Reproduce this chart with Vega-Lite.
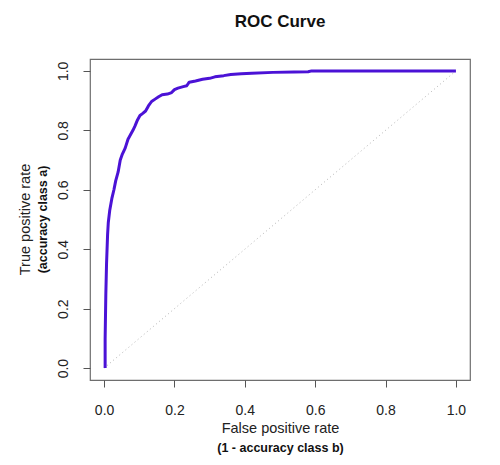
{
  "$schema": "https://vega.github.io/schema/vega-lite/v6.json",
  "autosize": "none",
  "width": 380,
  "height": 321,
  "padding": {"left": 90, "top": 59, "right": 30, "bottom": 85},
  "background": "white",
  "config": {
    "font": "Liberation Sans",
    "view": {"stroke": "#6e6e6e", "strokeWidth": 1.2},
    "axis": {
      "grid": false,
      "domain": false,
      "tickColor": "#555555",
      "tickSize": 7,
      "labelFontSize": 14,
      "labelColor": "#222222",
      "titleColor": "#222222",
      "titleFontWeight": "normal",
      "titleFontSize": 14.5
    }
  },
  "title": {
    "text": "ROC Curve",
    "fontSize": 17,
    "fontWeight": "bold",
    "color": "#111111",
    "anchor": "middle",
    "frame": "group",
    "offset": 28
  },
  "datasets": {
    "roc": [
      {"fpr": 0.003, "tpr": 0.0},
      {"fpr": 0.003, "tpr": 0.10},
      {"fpr": 0.005, "tpr": 0.25},
      {"fpr": 0.007, "tpr": 0.35},
      {"fpr": 0.010, "tpr": 0.45},
      {"fpr": 0.012, "tpr": 0.49},
      {"fpr": 0.016, "tpr": 0.53},
      {"fpr": 0.022, "tpr": 0.57},
      {"fpr": 0.028, "tpr": 0.60},
      {"fpr": 0.033, "tpr": 0.63},
      {"fpr": 0.040, "tpr": 0.66},
      {"fpr": 0.046, "tpr": 0.70},
      {"fpr": 0.052, "tpr": 0.72},
      {"fpr": 0.060, "tpr": 0.74},
      {"fpr": 0.068, "tpr": 0.77},
      {"fpr": 0.075, "tpr": 0.785},
      {"fpr": 0.082, "tpr": 0.80},
      {"fpr": 0.088, "tpr": 0.815},
      {"fpr": 0.095, "tpr": 0.835},
      {"fpr": 0.102, "tpr": 0.85},
      {"fpr": 0.110, "tpr": 0.857},
      {"fpr": 0.118, "tpr": 0.865},
      {"fpr": 0.126, "tpr": 0.882},
      {"fpr": 0.135, "tpr": 0.897},
      {"fpr": 0.145, "tpr": 0.905},
      {"fpr": 0.155, "tpr": 0.913},
      {"fpr": 0.165, "tpr": 0.92},
      {"fpr": 0.180, "tpr": 0.922},
      {"fpr": 0.192, "tpr": 0.927},
      {"fpr": 0.200, "tpr": 0.937},
      {"fpr": 0.210, "tpr": 0.942},
      {"fpr": 0.225, "tpr": 0.947},
      {"fpr": 0.235, "tpr": 0.950},
      {"fpr": 0.242, "tpr": 0.962},
      {"fpr": 0.260, "tpr": 0.966},
      {"fpr": 0.280, "tpr": 0.972},
      {"fpr": 0.300, "tpr": 0.975},
      {"fpr": 0.315, "tpr": 0.980},
      {"fpr": 0.340, "tpr": 0.984},
      {"fpr": 0.360, "tpr": 0.988},
      {"fpr": 0.390, "tpr": 0.990},
      {"fpr": 0.420, "tpr": 0.992},
      {"fpr": 0.480, "tpr": 0.995},
      {"fpr": 0.540, "tpr": 0.996},
      {"fpr": 0.580, "tpr": 0.997},
      {"fpr": 0.590, "tpr": 1.0},
      {"fpr": 1.0, "tpr": 1.0}
    ],
    "chance": [
      {"fpr": 0.0, "tpr": 0.0},
      {"fpr": 1.0, "tpr": 1.0}
    ]
  },
  "resolve": {"axis": {"x": "independent", "y": "independent"}},
  "layer": [
    {
      "data": {"name": "chance"},
      "mark": {"type": "line", "color": "#b4b4b4", "strokeWidth": 1, "strokeDash": [1, 3]},
      "encoding": {
        "x": {
          "field": "fpr", "type": "quantitative",
          "scale": {"domain": [-0.04, 1.04], "nice": false, "zero": false},
          "axis": {
            "orient": "bottom", "labels": false, "ticks": false,
            "title": "(1 - accuracy class b)", "titleFontWeight": "bold", "titleFontSize": 12.5,
            "titleColor": "#111111", "titleX": 190, "titleY": 67, "titleBaseline": "middle", "titleAlign": "center"
          }
        },
        "y": {
          "field": "tpr", "type": "quantitative",
          "scale": {"domain": [-0.04, 1.04], "nice": false, "zero": false},
          "axis": {
            "orient": "left", "labels": false, "ticks": false,
            "title": "(accuracy class a)", "titleFontWeight": "bold", "titleFontSize": 12.5,
            "titleColor": "#111111", "titleX": -48, "titleY": 160, "titleAngle": -90,
            "titleBaseline": "middle", "titleAlign": "center"
          }
        }
      }
    },
    {
      "data": {"name": "roc"},
      "mark": {"type": "line", "color": "#4b12d6", "strokeWidth": 3, "strokeJoin": "round", "strokeCap": "butt"},
      "encoding": {
        "x": {
          "field": "fpr", "type": "quantitative",
          "scale": {"domain": [-0.04, 1.04], "nice": false, "zero": false},
          "axis": {
            "orient": "bottom", "values": [0, 0.2, 0.4, 0.6, 0.8, 1], "format": ".1f",
            "labelPadding": 16, "title": "False positive rate",
            "titleX": 190, "titleY": 48, "titleBaseline": "middle", "titleAlign": "center"
          }
        },
        "y": {
          "field": "tpr", "type": "quantitative",
          "scale": {"domain": [-0.04, 1.04], "nice": false, "zero": false},
          "axis": {
            "orient": "left", "values": [0, 0.2, 0.4, 0.6, 0.8, 1], "format": ".1f",
            "labelAngle": -90, "labelAlign": "center", "labelBaseline": "bottom", "labelPadding": 13,
            "title": "True positive rate", "titleX": -65, "titleY": 160, "titleAngle": -90,
            "titleBaseline": "middle", "titleAlign": "center"
          }
        },
        "order": {"field": "fpr", "type": "quantitative"}
      }
    }
  ]
}
